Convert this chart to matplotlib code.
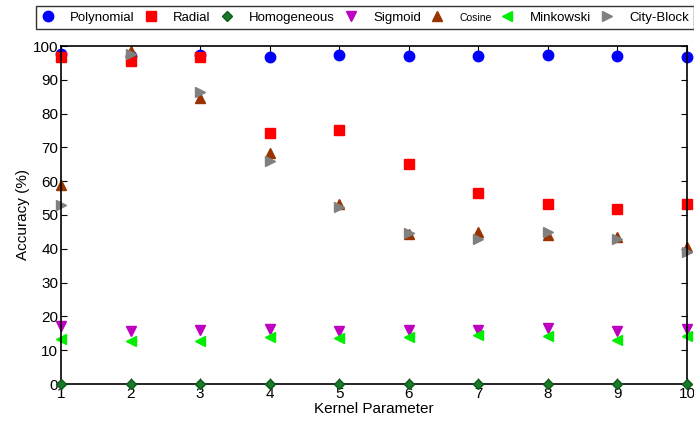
import numpy as np
import matplotlib.pyplot as plt

plt.rcParams['font.family'] = ['Liberation Sans', 'DejaVu Sans']

kernel_param = np.arange(1, 11)

polynomial = [97.6, 97.0, 97.3, 96.7, 97.3, 97.0, 97.0, 97.3, 97.0, 96.7]
radial = [96.7, 95.5, 96.7, 74.3, 75.1, 65.1, 56.5, 53.3, 51.8, 53.3]
homogeneous = [0, 0, 0, 0, 0, 0, 0, 0, 0, 0]
sigmoid = [17.2, 15.7, 16.0, 16.3, 15.7, 16.0, 16.0, 16.6, 15.7, 16.3]
cosine = [59.0, 98.5, 84.5, 68.3, 53.2, 44.5, 45.0, 44.0, 43.5, 40.5]
minkowski = [13.3, 12.7, 12.7, 13.9, 13.6, 13.9, 14.5, 14.2, 13.0, 14.2]
city_block = [53.0, 97.5, 86.5, 66.0, 52.5, 44.8, 43.0, 45.0, 43.0, 39.0]

fig = plt.figure(figsize=(6.94, 4.24), dpi=100)
ax = fig.add_axes([61/694, 1 - 384/424, 626/694, 338/424])

ax.plot(kernel_param, polynomial, 'o', color='#0000ff', ms=7.5, label='Polynomial', clip_on=False)
ax.plot(kernel_param, radial, 's', color='#ff0000', ms=6.5, label='Radial', clip_on=False)
ax.plot(kernel_param, homogeneous, 'D', color='#1a7a2a', mec='#0c5a18', ms=5.5, label='Homogeneous', clip_on=False, zorder=5)
ax.plot(kernel_param, sigmoid, 'v', color='#c000c0', ms=7.5, label='Sigmoid', clip_on=False)
ax.plot(kernel_param, cosine, '^', color='#993300', ms=7.5, label='Cosine', clip_on=False)
ax.plot(kernel_param, minkowski, '<', color='#00ee00', ms=7.5, label='Minkowski', clip_on=False)
ax.plot(kernel_param, city_block, '>', color='#808080', ms=7.5, label='City-Block', clip_on=False)

ax.set_xlim(1, 10)
ax.set_ylim(0, 100)
ax.set_xticks(kernel_param)
ax.set_yticks(np.arange(0, 101, 10))
ax.tick_params(direction='in', top=True, right=True, labelsize=11, length=4, pad=2)
for s in ax.spines.values():
    s.set_linewidth(1.2)
ax.set_xlabel('Kernel Parameter', fontsize=11, labelpad=1)
ax.set_ylabel('Accuracy (%)', fontsize=11, labelpad=2)

leg = fig.legend(loc='upper left', bbox_to_anchor=(36/694, 1 - 6/424), ncol=7,
                 fontsize=9.5, frameon=True, fancybox=False, edgecolor='black',
                 handletextpad=1.2, columnspacing=0.7, borderpad=0.4, handlelength=1,
                 borderaxespad=0)
leg.get_frame().set_linewidth(1.0)
for t in leg.get_texts():
    if t.get_text() == 'Cosine':
        t.set_fontsize(7.5)

fig.savefig('out.png', dpi=100)
